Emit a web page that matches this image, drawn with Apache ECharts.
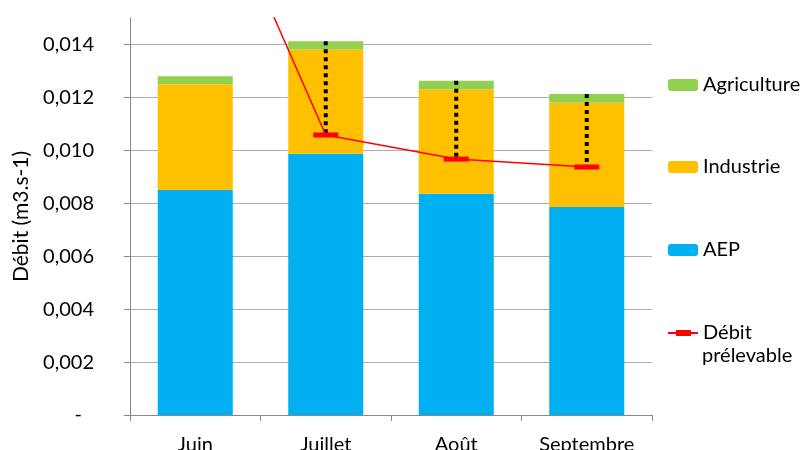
<!DOCTYPE html>
<html>
<head>
<meta charset="utf-8">
<script src="https://cdn.jsdelivr.net/npm/echarts@6/dist/echarts.min.js"></script>
<style>
  html, body { margin: 0; padding: 0; background: #fff; }
  #chart { width: 805px; height: 450px; }
</style>
</head>
<body>
<div id="chart"></div>
<script>
// Monthly water withdrawals by use (m3/s) against the allowable withdrawal rate
const months = ['Juin', 'Juillet', 'Août', 'Septembre'];
const aep = [0.0085, 0.00987, 0.00836, 0.00786];
const industrie = [0.0040, 0.00394, 0.00394, 0.00394];
const agriculture = [0.0003, 0.00031, 0.00033, 0.00033];
const debitPrelevable = [0.0218, 0.01058, 0.00967, 0.00937];

const FONT = 'Lato';
const TXT = '#000';

// Total demand per month, used for the dotted gap markers
const totals = months.map((m, i) => aep[i] + industrie[i] + agriculture[i]);
const gaps = months
  .map((m, i) => [m, debitPrelevable[i], totals[i]])
  .filter(d => d[1] < d[2]);

const chart = echarts.init(document.getElementById('chart'), null, { renderer: 'canvas' });

function legendAt(name, top, extra) {
  return Object.assign({
    data: [name],
    left: 668,
    top: top,
    orient: 'vertical',
    itemWidth: 30,
    itemHeight: 12,
    itemGap: 0,
    padding: 0,
    selectedMode: false,
    textStyle: { fontFamily: FONT, fontSize: 20, color: TXT }
  }, extra || {});
}

const option = {
  animation: false,
  backgroundColor: '#fff',
  grid: { left: 130, right: 153, top: 18, bottom: 35, outerBoundsMode: 'none', containLabel: false },
  legend: [
    legendAt('Agriculture', 75),
    legendAt('Industrie', 157),
    legendAt('AEP', 240),
    legendAt('Débit prélevable', 323, {
      itemHeight: 6,
      icon: 'path://M0,2 L30,2 L30,4 L0,4 Z M8,0 L23,0 L23,6 L8,6 Z',
      formatter: () => 'Débit'
    })
  ],
  graphic: [{
    type: 'text',
    left: 702,
    top: 346,
    style: { text: 'prélevable', fontFamily: FONT, fontSize: 20, fill: TXT }
  }],
  xAxis: {
    type: 'category',
    data: months,
    boundaryGap: true,
    axisLine: { lineStyle: { color: '#888', width: 1 } },
    axisTick: { show: true, length: 6, lineStyle: { color: '#888' } },
    axisLabel: { margin: 20, fontFamily: FONT, fontSize: 20, color: TXT }
  },
  yAxis: {
    type: 'value',
    min: 0,
    max: 0.015,
    interval: 0.002,
    name: 'Débit (m3.s-1)',
    nameLocation: 'middle',
    nameGap: 97,
    nameTextStyle: { fontFamily: FONT, fontSize: 21, color: TXT },
    axisLine: { show: true, lineStyle: { color: '#888', width: 1 } },
    axisTick: { show: true, length: 6, lineStyle: { color: '#888' } },
    splitLine: { show: true, showMaxLine: false, lineStyle: { color: '#ADADAD', width: 1 } },
    axisLabel: {
      margin: 36,
      showMaxLabel: false,
      fontFamily: FONT,
      fontSize: 20,
      color: TXT,
      formatter: v => v === 0 ? '{d|-}' : v.toFixed(3).replace('.', ','),
      rich: { d: { fontFamily: FONT, fontSize: 20, color: TXT, padding: [0, 12, 0, 0] } }
    }
  },
  series: [
    {
      name: 'AEP', type: 'bar', stack: 'usage', data: aep,
      barCategoryGap: '42.5%',
      itemStyle: { color: '#00B0F0' }
    },
    {
      name: 'Industrie', type: 'bar', stack: 'usage', data: industrie,
      itemStyle: { color: '#FFC000' }
    },
    {
      name: 'Agriculture', type: 'bar', stack: 'usage', data: agriculture,
      itemStyle: { color: '#92D050' }
    },
    {
      // dotted gap between allowable rate and total demand
      name: 'gap', type: 'custom', data: gaps, z: 3,
      encode: { x: 0, y: [1, 2] },
      renderItem: (params, api) => {
        const low = api.coord([api.value(0), api.value(1)]);
        const high = api.coord([api.value(0), api.value(2)]);
        return {
          type: 'line',
          shape: { x1: high[0], y1: high[1], x2: low[0], y2: low[1] - 2 },
          style: { stroke: '#000', lineWidth: 4, lineDash: [4, 4] }
        };
      }
    },
    {
      name: 'Débit prélevable', type: 'line', data: debitPrelevable, z: 5,
      clip: true,
      symbol: 'rect',
      symbolSize: [25, 5],
      showAllSymbol: true,
      color: '#FF0000',
      lineStyle: { color: '#FF0000', width: 1.5 },
      itemStyle: { color: '#FF0000' }
    }
  ]
};

chart.setOption(option);
</script>
</body>
</html>
